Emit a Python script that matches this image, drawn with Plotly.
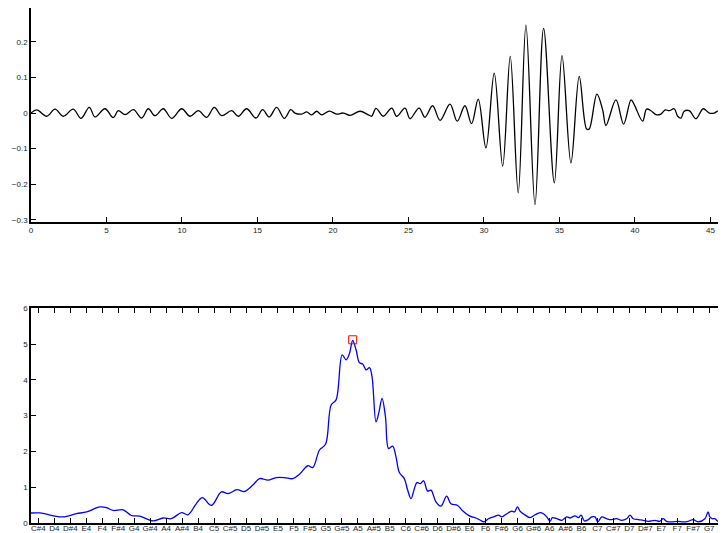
import plotly.graph_objects as go

# ---- top panel: waveform (time vs amplitude), extrema ----
wave_t = [0.0, 0.38, 1.04, 1.59, 2.14, 2.80, 3.31, 3.86, 4.24, 4.90, 5.45, 5.78, 6.23, 6.78, 7.33,
          7.77, 8.21, 8.76, 9.32, 9.98, 10.53, 11.08, 11.63, 12.14, 12.63, 13.29, 13.73, 14.28,
          14.90, 15.34, 15.78, 16.27, 16.78, 17.20, 17.48, 17.93, 18.26, 18.59, 18.92, 19.25,
          19.76, 20.24, 20.68, 21.13, 21.79, 22.34, 22.56, 22.85, 23.33, 23.89, 24.22, 24.77,
          25.10, 25.70, 26.09, 26.60, 27.09, 27.75, 28.23, 28.74, 29.18, 29.62, 30.13, 30.68,
          31.24, 31.74, 32.27, 32.78, 33.38, 33.95, 34.66, 35.17, 35.76, 36.31, 36.80, 36.97,
          37.48, 37.86, 38.08, 38.74, 39.25, 39.74, 39.96, 40.51, 40.77, 41.06, 41.39, 41.72,
          42.01, 42.27, 42.60, 42.83, 43.05, 43.26, 43.60, 44.04, 44.52, 44.92, 45.25, 45.54,
          45.81, 46.03]
wave_y = [0.0, 0.009, -0.009, 0.011, -0.009, 0.011, -0.015, 0.016, -0.011, 0.012, -0.013, 0.0065,
          -0.0047, 0.0093, -0.014, 0.012, -0.0075, 0.012, -0.015, 0.012, -0.009, 0.0065, -0.012,
          0.016, -0.0075, 0.0065, -0.009, 0.012, -0.014, 0.0093, -0.011, 0.016, -0.015, 0.0093,
          0.0, -0.003, 0.003, -0.005, 0.005, -0.005, 0.0056, -0.003, 0.0, -0.0065, 0.005, -0.005,
          -0.009, 0.013, -0.009, 0.014, -0.009, 0.014, -0.016, 0.014, -0.012, 0.0205, -0.0205,
          0.025, -0.023, 0.0205, -0.030, 0.039, -0.098, 0.112, -0.149, 0.159, -0.224, 0.247,
          -0.257, 0.238, -0.196, 0.161, -0.140, 0.103, -0.045, -0.045, 0.053, 0.009, -0.035,
          0.037, -0.031, 0.037, 0.023, -0.023, 0.011, 0.0065, -0.0047, -0.003, 0.009, 0.0065,
          0.012, -0.009, -0.014, 0.005, 0.0065, -0.016, 0.012, 0.0, 0.0, 0.0065, 0.0, -0.003]
time_ticks = [0, 5, 10, 15, 20, 25, 30, 35, 40, 45]
amp_ticks = [-0.3, -0.2, -0.1, 0, 0.1, 0.2]

# ---- bottom panel: spectrum vs pitch (semitone number) ----
spec_pitch = [60.54, 61.10, 62.04, 62.56, 63.39, 64.02, 64.85, 65.27, 65.69, 66.31, 66.83, 67.35,
              68.19, 68.81, 69.33, 69.96, 70.37, 70.89, 71.27, 71.83, 72.46, 72.87, 73.44, 73.90,
              74.43, 74.85, 75.37, 75.89, 76.41, 76.93, 77.35, 77.87, 78.18, 78.60, 78.98, 79.33,
              79.64, 80.02, 80.27, 80.48, 80.68, 80.89, 81.10, 81.31, 81.52, 81.73, 81.89, 82.14,
              82.31, 82.52, 82.73, 82.93, 83.18, 83.39, 83.60, 83.91, 84.12, 84.33, 84.54, 84.70,
              84.91, 85.12, 85.37, 85.58, 85.89, 86.20, 86.56, 86.83, 87.25, 87.56, 87.98, 88.39,
              88.70, 88.91, 89.18, 89.50, 89.81, 90.02, 90.33, 90.64, 90.81, 90.99, 91.16, 91.48,
              91.79, 92.10, 92.41, 92.62, 92.83, 93.04, 93.18, 93.45, 93.77, 94.08, 94.29, 94.60,
              94.81, 94.98, 95.18, 95.43, 95.64, 95.85, 96.02, 96.27, 96.58, 96.89, 97.20, 97.52,
              97.83, 98.04, 98.25, 98.56, 98.87, 99.18, 99.60, 99.91, 100.12, 100.33, 100.64,
              101.06, 101.37, 101.68, 101.99, 102.31, 102.73, 102.93, 103.04, 103.18, 103.35,
              103.56, 103.77, 103.98]
spec_mag = [0.28, 0.28, 0.19, 0.17, 0.26, 0.31, 0.45, 0.43, 0.35, 0.37, 0.21, 0.19, 0.06, 0.14,
            0.12, 0.29, 0.23, 0.54, 0.71, 0.49, 0.87, 0.82, 0.93, 0.88, 1.06, 1.24, 1.20, 1.27,
            1.27, 1.24, 1.36, 1.60, 1.55, 2.04, 2.20, 3.30, 3.44, 4.70, 4.56, 4.74, 5.10, 4.84,
            4.48, 4.44, 4.28, 4.34, 4.09, 2.83, 3.07, 3.48, 2.97, 2.08, 2.15, 1.85, 1.41, 1.24,
            0.92, 0.68, 0.96, 1.13, 1.10, 1.18, 0.89, 0.92, 0.59, 0.47, 0.75, 0.54, 0.49, 0.34,
            0.20, 0.14, 0.07, 0.03, 0.12, 0.17, 0.22, 0.17, 0.26, 0.33, 0.31, 0.45, 0.33, 0.22,
            0.15, 0.23, 0.29, 0.26, 0.17, 0.05, 0.15, 0.12, 0.076, 0.17, 0.14, 0.20, 0.15, 0.22,
            0.057, 0.094, 0.17, 0.17, 0.03, 0.17, 0.12, 0.094, 0.12, 0.076, 0.12, 0.22, 0.12,
            0.094, 0.076, 0.048, 0.076, 0.048, 0.12, 0.048, 0.03, 0.048, 0.03, 0.048, 0.094,
            0.03, 0.12, 0.31, 0.17, 0.12, 0.12, 0.048, 0.094, 0.12]
peak_pitch = [80.68]
peak_mag = [5.12]
note_labels = ["C#4", "D4", "D#4", "E4", "F4", "F#4", "G4", "G#4", "A4", "A#4", "B4",
               "C5", "C#5", "D5", "D#5", "E5", "F5", "F#5", "G5", "G#5", "A5", "A#5", "B5",
               "C6", "C#6", "D6", "D#6", "E6", "F6", "F#6", "G6", "G#6", "A6", "A#6", "B6",
               "C7", "C#7", "D7", "D#7", "E7", "F7", "F#7", "G7", "G#7"]
first_note = 61  # MIDI number of C#4
note_pos = [first_note + i for i in range(len(note_labels))]
mag_ticks = [0, 1, 2, 3, 4, 5, 6]

font = dict(family="Liberation Sans, Arial, sans-serif", size=8, color="#222")

fig = go.Figure()
fig.add_trace(go.Scatter(x=wave_t, y=wave_y, mode="lines", line=dict(color="black", width=1.3, shape="spline"),
                         xaxis="x", yaxis="y", showlegend=False, hoverinfo="skip"))
fig.add_trace(go.Scatter(x=spec_pitch, y=spec_mag, mode="lines", line=dict(color="#0000ff", width=1.3, shape="spline"),
                         xaxis="x2", yaxis="y2", showlegend=False, hoverinfo="skip"))
fig.add_trace(go.Scatter(x=peak_pitch, y=peak_mag, mode="markers",
                         marker=dict(symbol="square-open", size=8, color="red", line=dict(width=1, color="red")),
                         xaxis="x2", yaxis="y2", showlegend=False, hoverinfo="skip"))

axcommon = dict(showgrid=False, zeroline=False, ticks="inside", ticklen=5, tickwidth=1, tickcolor="black",
                showline=True, linecolor="black", linewidth=1.5, tickfont=font, automargin=False)

# the page body adds an 8 px offset, so the figure is sized to the remaining 718x525 area
fig.update_layout(
    width=718, height=525,
    margin=dict(l=23, r=0, t=0, b=10),
    paper_bgcolor="white", plot_bgcolor="white",
    xaxis=dict(domain=[0, 1], range=[0, 46.03], tickvals=time_ticks, anchor="y", **axcommon),
    yaxis=dict(domain=[0.5845, 1], range=[-0.306, 0.295], tickvals=amp_ticks, anchor="x", **axcommon),
    xaxis2=dict(domain=[0, 1], range=[60.54, 104.05], tickvals=note_pos, ticktext=note_labels,
                anchor="y2", mirror="ticks", tickangle=0, ticklabelstandoff=-3, **axcommon),
    yaxis2=dict(domain=[0, 0.4169], range=[0, 6], tickvals=mag_ticks, anchor="x2", mirror="ticks", **axcommon),
)

fig.write_html("out.html")
